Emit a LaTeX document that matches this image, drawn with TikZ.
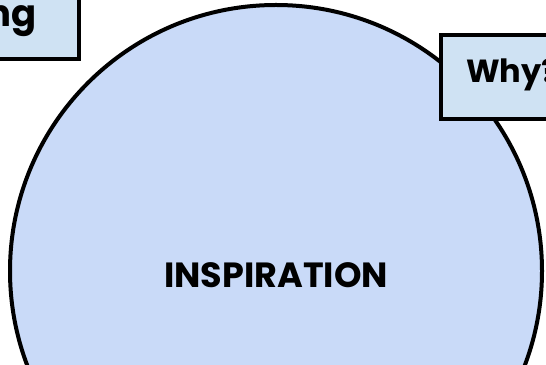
\documentclass[tikz,border=0pt]{standalone}
\usepackage{fontspec}
\setmainfont{Poppins}
\definecolor{circfill}{HTML}{C9DAF8}
\definecolor{boxfill}{HTML}{CFE2F3}
\begin{document}
\begin{tikzpicture}[x=1pt,y=1pt,
  labelbox/.style={draw=black, line width=4pt, fill=boxfill, inner sep=0pt, outer sep=0pt},
  bigtext/.style={font=\bfseries\fontsize{35}{40}\selectfont, inner sep=0pt},
  boxtext/.style={font=\bfseries\fontsize{32}{36}\selectfont, inner sep=0pt}]
% Fix the page size
\useasboundingbox (0,0) rectangle (546,364);
\clip (0,0) rectangle (546,364);

% Draw the big circle
\node[circle, draw=black, line width=4pt, fill=circfill, minimum size=532pt, inner sep=0pt] (inspcircle) at (276,93) {};
\node[bigtext, anchor=base] (insptext) at (276,76) {INSPIRATION};

% Box cut off at the top left
\node[labelbox, anchor=south east, minimum width=160pt, minimum height=90pt] (ngbox) at (79,305) {};
\node[font=\bfseries\fontsize{37}{40}\selectfont, inner sep=0pt, anchor=base east] (ngtext) at (37,337) {ng};

% Box cut off at the right
\node[labelbox, anchor=north west, minimum width=150pt, minimum height=84pt] (whybox) at (441,329) {};
\node[boxtext, anchor=base west] (whytext) at (466,281) {Why?};
\end{tikzpicture}
\end{document}
